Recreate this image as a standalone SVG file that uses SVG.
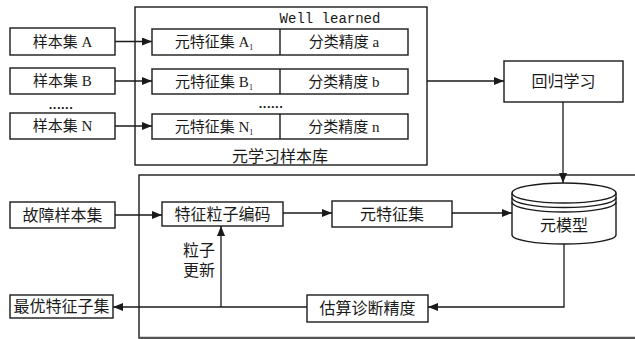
<svg xmlns="http://www.w3.org/2000/svg" width="635" height="339" viewBox="0 0 635 339">
<defs>
<marker id="ah" viewBox="0 0 10 8" refX="10" refY="4" markerWidth="10" markerHeight="8" markerUnits="userSpaceOnUse" orient="auto">
<path d="M0,0 L10,4 L0,8 Z" fill="#1a1a1a"/>
</marker>
</defs>
<style>
.b{fill:#fff;stroke:#1a1a1a;stroke-width:1.4}
.f{fill:none;stroke:#1a1a1a;stroke-width:1.4}
.t{font-family:"Liberation Serif","Noto Sans CJK SC",serif;font-size:15px;fill:#1a1a1a;text-anchor:middle;dominant-baseline:central}
.s{font-size:16px}
.sub{font-size:8px}
.c{stroke:#1a1a1a;stroke-width:1.3;fill:none}
.d{font-family:"Liberation Sans",sans-serif;font-size:13px;font-weight:bold;fill:#1a1a1a;text-anchor:middle;letter-spacing:0.5px}
</style>
<rect width="635" height="339" fill="#fff"/>

<g id="lib">
<rect class="f" x="135" y="7" width="292" height="158"/>
<text x="330" y="19" style="font-family:'Liberation Mono',monospace;font-size:14px;fill:#1a1a1a;text-anchor:middle;dominant-baseline:central">Well learned</text>
<text class="t s" x="280" y="156">元学习样本库</text>
</g>

<g id="sA"><rect class="b" x="10" y="28" width="105" height="27"/><text class="t" x="62.5" y="41.5">样本集 A</text></g>
<g id="sB"><rect class="b" x="10" y="68" width="105" height="26"/><text class="t" x="62.5" y="81">样本集 B</text></g>
<text class="d" x="61" y="109">......</text>
<g id="sN"><rect class="b" x="10" y="113" width="105" height="26"/><text class="t" x="62.5" y="126">样本集 N</text></g>

<g id="rA"><rect class="b" x="152" y="29" width="256" height="26"/><line class="f" x1="280" y1="29" x2="280" y2="55"/>
<text class="t" x="214" y="42">元特征集 A<tspan class="sub" dy="5">1</tspan></text><text class="t" x="344" y="42">分类精度 a</text></g>
<g id="rB"><rect class="b" x="152" y="69" width="256" height="25"/><line class="f" x1="280" y1="69" x2="280" y2="94"/>
<text class="t" x="214" y="81.5">元特征集 B<tspan class="sub" dy="5">1</tspan></text><text class="t" x="344" y="81.5">分类精度 b</text></g>
<text class="d" x="271" y="108">......</text>
<g id="rN"><rect class="b" x="152" y="114" width="256" height="25"/><line class="f" x1="280" y1="114" x2="280" y2="139"/>
<text class="t" x="214" y="126.5">元特征集 N<tspan class="sub" dy="5">1</tspan></text><text class="t" x="344" y="126.5">分类精度 n</text></g>

<g id="reg"><rect class="b" x="504" y="61" width="119" height="41"/><text class="t s" x="563.5" y="81.5">回归学习</text></g>

<g id="lower"><rect class="f" x="139" y="175" width="510" height="163"/><line x1="139" y1="338" x2="635" y2="338" stroke="#555" stroke-width="2.5"/></g>

<g id="fault"><rect class="b" x="10" y="202" width="105" height="26"/><text class="t s" x="62.5" y="215">故障样本集</text></g>
<g id="enc"><rect class="b" x="162" y="202" width="121" height="24"/><text class="t s" x="222.5" y="214">特征粒子编码</text></g>
<g id="mf"><rect class="b" x="332" y="201" width="120" height="26"/><text class="t s" x="392" y="214">元特征集</text></g>
<g id="model">
<path class="b" d="M512,193 L512,235 A52,9 0 0 0 616,235 L616,193"/>
<ellipse class="b" cx="564" cy="193" rx="52" ry="10"/>
<path class="f" d="M512,197.5 A52,10 0 0 0 616,197.5"/>
<path class="f" d="M512,202 A52,10 0 0 0 616,202"/>
<text class="t s" x="564" y="225">元模型</text>
</g>
<g id="est"><rect class="b" x="307" y="295" width="121" height="27"/><text class="t s" x="367.5" y="308.5">估算诊断精度</text></g>
<g id="best"><rect class="b" x="10" y="295" width="103" height="23"/><text class="t s" x="61.5" y="306.5">最优特征子集</text></g>

<g id="conn">
<line class="c" x1="115" y1="41.5" x2="152" y2="41.5" marker-end="url(#ah)"/>
<line class="c" x1="115" y1="81" x2="152" y2="81" marker-end="url(#ah)"/>
<line class="c" x1="115" y1="126" x2="152" y2="126" marker-end="url(#ah)"/>
<line class="c" x1="427" y1="81" x2="504" y2="81" marker-end="url(#ah)"/>
<line class="c" x1="563" y1="102" x2="563" y2="183" marker-end="url(#ah)"/>
<line class="c" x1="115" y1="215" x2="162" y2="215" marker-end="url(#ah)"/>
<line class="c" x1="283" y1="213" x2="332" y2="213" marker-end="url(#ah)"/>
<line class="c" x1="452" y1="213" x2="512" y2="213" marker-end="url(#ah)"/>
<polyline class="c" points="564,244 564,307 428,307" marker-end="url(#ah)"/>
<line class="c" x1="307" y1="307" x2="113" y2="307" marker-end="url(#ah)"/>
<line class="c" x1="221" y1="307" x2="221" y2="226" marker-end="url(#ah)"/>
<text class="t s" x="199" y="250">粒子</text>
<text class="t s" x="199" y="270">更新</text>
</g>
</svg>
